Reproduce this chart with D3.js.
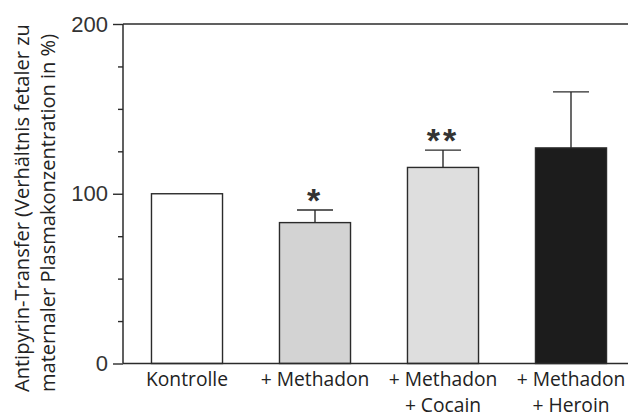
<!DOCTYPE html>
<html><head><meta charset="utf-8">
<script src="https://cdn.jsdelivr.net/npm/d3@7"></script>
<style>body{margin:0;background:#fff}svg{display:block}</style>
</head><body><svg id="c" width="628" height="418"></svg>
<script>
const categories = ["Kontrolle", "+ Methadon", "+ Methadon + Cocain", "+ Methadon + Heroin"];
const categoryLines = [["Kontrolle"], ["+ Methadon"], ["+ Methadon", "+ Cocain"], ["+ Methadon", "+ Heroin"]];
const values = [100, 83, 115.5, 127];
const errors = [0, 7.4, 10.2, 33];
const significance = ["", "*", "**", ""];
const fills = ["#ffffff", "#d3d3d3", "#dedede", "#1c1c1c"];
const yTicks = [0, 100, 200];
const yMinorTicks = [25, 50, 75, 125, 150, 175];
const titleLines = ["Antipyrin-Transfer (Verhältnis fetaler zu", "maternaler Plasmakonzentration in %)"];

const svg = d3.select("#c");
const W = 628, H = 418;
const x0 = 123, yTop = 24, yBot = 363.5;
const x = d3.scaleBand().domain(categories).range([x0, 635]).paddingInner(0.445).paddingOuter(0.2225);
const y = d3.scaleLinear().domain([0, 200]).range([yBot, yTop]);
const ink = "#2b2b2b";
const font = "'Open Sans', 'Noto Sans', sans-serif";

function fitSize(text, target) {
  const t = svg.append("text").attr("font-family", font).attr("font-size", 20).text(text);
  const len = t.node().getComputedTextLength();
  t.remove();
  return 20 * target / len;
}

// bars
const g = svg.append("g");
g.selectAll("rect.bar").data(categories).join("rect")
  .attr("x", d => x(d)).attr("width", x.bandwidth())
  .attr("y", (d, i) => y(values[i])).attr("height", (d, i) => y(0) - y(values[i]))
  .attr("fill", (d, i) => fills[i]).attr("stroke", ink).attr("stroke-width", 1.4);

// error bars
const capW = 36;
categories.forEach((d, i) => {
  if (!errors[i]) return;
  const cx = x(d) + x.bandwidth() / 2;
  g.append("line").attr("x1", cx).attr("x2", cx).attr("y1", y(values[i])).attr("y2", y(values[i] + errors[i]))
    .attr("stroke", ink).attr("stroke-width", 1.4);
  g.append("line").attr("x1", cx - capW / 2).attr("x2", cx + capW / 2)
    .attr("y1", y(values[i] + errors[i])).attr("y2", y(values[i] + errors[i]))
    .attr("stroke", ink).attr("stroke-width", 1.4);
  if (significance[i]) {
    g.append("text").attr("x", cx).attr("y", y(values[i] + errors[i]) + 2)
      .attr("text-anchor", "middle").attr("font-family", "Liberation Sans, Arial, sans-serif")
      .attr("font-size", 34).attr("font-weight", "bold").attr("fill", "#333").attr("letter-spacing", 3)
      .text(significance[i]);
  }
});

// axes
const ay = svg.append("g").attr("transform", `translate(${x0},0)`)
  .call(d3.axisLeft(y).tickValues(yTicks).tickSize(10).tickPadding(5).tickFormat(d3.format("d")));
ay.select(".domain").remove();
ay.selectAll("line").attr("stroke", ink).attr("stroke-width", 1.4);
ay.selectAll("text").attr("font-family", "Liberation Sans, Arial, sans-serif").attr("font-size", 22).attr("fill", "#333");
const am = svg.append("g").attr("transform", `translate(${x0},0)`)
  .call(d3.axisLeft(y).tickValues(yMinorTicks).tickSize(5).tickFormat(""));
am.select(".domain").remove();
am.selectAll("line").attr("stroke", ink).attr("stroke-width", 1.4);

svg.append("line").attr("x1", x0).attr("x2", x0).attr("y1", y(200)).attr("y2", y(0)).attr("stroke", ink).attr("stroke-width", 1.5);
svg.append("line").attr("x1", x0).attr("x2", W).attr("y1", y(200)).attr("y2", y(200)).attr("stroke", ink).attr("stroke-width", 1.5);
svg.append("line").attr("x1", x0).attr("x2", W).attr("y1", y(0)).attr("y2", y(0)).attr("stroke", ink).attr("stroke-width", 1.5);

// category labels
const catSize = fitSize("Kontrolle", 82);
categories.forEach((d, i) => {
  const cx = x(d) + x.bandwidth() / 2;
  categoryLines[i].forEach((t, j) => {
    svg.append("text").attr("x", cx).attr("y", 386 + j * 26).attr("text-anchor", "middle")
      .attr("font-family", font).attr("font-size", catSize).attr("fill", "#222").text(t);
  });
});

// y title
const titleSize = fitSize(titleLines[0], 368);
titleLines.forEach((t, j) => {
  svg.append("text").attr("transform", `translate(${29 + j * 26},392) rotate(-90)`)
    .attr("text-anchor", "start").attr("font-family", font).attr("font-size", titleSize).attr("fill", "#222").text(t);
});
</script></body></html>
